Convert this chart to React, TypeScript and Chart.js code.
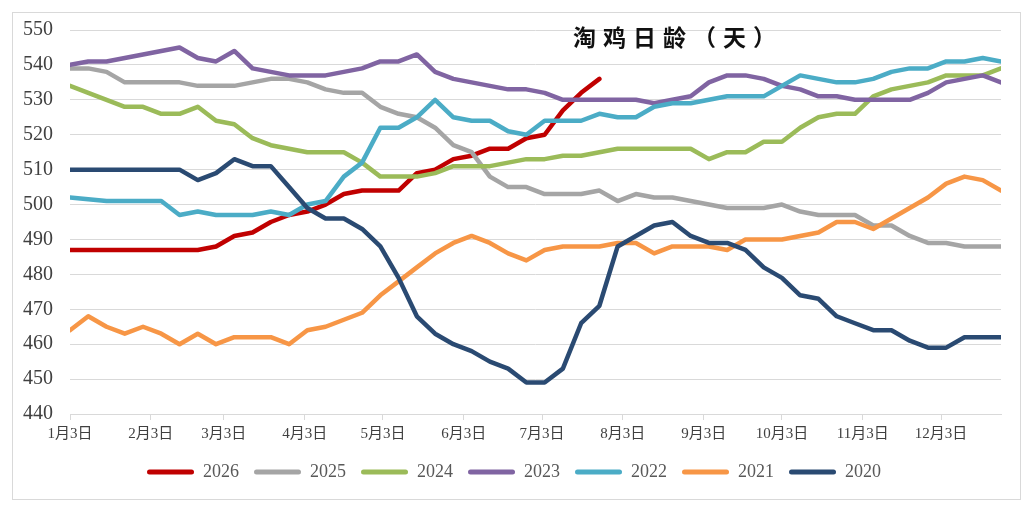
import { useEffect, useRef } from 'react';
import { Chart, registerables } from 'chart.js';

Chart.register(...registerables);

// weekly samples, day offset from 1月3日
const weekDays = Array.from({ length: 52 }, (_, i) => i * 7);

// month ticks on the date axis (days after 1月3日)
const monthTickDays = [0, 31, 59, 90, 120, 151, 181, 212, 243, 273, 304, 334];
const monthTickLabels = ['1月3日', '2月3日', '3月3日', '4月3日', '5月3日', '6月3日', '7月3日', '8月3日', '9月3日', '10月3日', '11月3日', '12月3日'];

const years = ['2026', '2025', '2024', '2023', '2022', '2021', '2020'];

const age2026 = [487, 487, 487, 487, 487, 487, 487, 487, 488, 491, 492, 495, 497, 498, 500, 503, 504, 504, 504, 509, 510, 513, 514, 516, 516, 519, 520, 527, 532, 536];
const age2025 = [539, 539, 538, 535, 535, 535, 535, 534, 534, 534, 535, 536, 536, 535, 533, 532, 532, 528, 526, 525, 522, 517, 515, 508, 505, 505, 503, 503, 503, 504, 501, 503, 502, 502, 501, 500, 499, 499, 499, 500, 498, 497, 497, 497, 494, 494, 491, 489, 489, 488, 488, 488];
const age2024 = [534, 532, 530, 528, 528, 526, 526, 528, 524, 523, 519, 517, 516, 515, 515, 515, 512, 508, 508, 508, 509, 511, 511, 511, 512, 513, 513, 514, 514, 515, 516, 516, 516, 516, 516, 513, 515, 515, 518, 518, 522, 525, 526, 526, 531, 533, 534, 535, 537, 537, 537, 539];
const age2023 = [540, 541, 541, 542, 543, 544, 545, 542, 541, 544, 539, 538, 537, 537, 537, 538, 539, 541, 541, 543, 538, 536, 535, 534, 533, 533, 532, 530, 530, 530, 530, 530, 529, 530, 531, 535, 537, 537, 536, 534, 533, 531, 531, 530, 530, 530, 530, 532, 535, 536, 537, 535];
const age2022 = [502, 501.5, 501, 501, 501, 501, 497, 498, 497, 497, 497, 498, 497, 500, 501, 508, 512, 522, 522, 525, 530, 525, 524, 524, 521, 520, 524, 524, 524, 526, 525, 525, 528, 529, 529, 530, 531, 531, 531, 534, 537, 536, 535, 535, 536, 538, 539, 539, 541, 541, 542, 541];
const age2021 = [464, 468, 465, 463, 465, 463, 460, 463, 460, 462, 462, 462, 460, 464, 465, 467, 469, 474, 478, 482, 486, 489, 491, 489, 486, 484, 487, 488, 488, 488, 489, 489, 486, 488, 488, 488, 487, 490, 490, 490, 491, 492, 495, 495, 493, 496, 499, 502, 506, 508, 507, 504];
const age2020 = [510, 510, 510, 510, 510, 510, 510, 507, 509, 513, 511, 511, 505, 499, 496, 496, 493, 488, 479, 468, 463, 460, 458, 455, 453, 449, 449, 453, 466, 471, 488, 491, 494, 495, 491, 489, 489, 487, 482, 479, 474, 473, 468, 466, 464, 464, 461, 459, 459, 462, 462, 462];

const allSeries = [age2026, age2025, age2024, age2023, age2022, age2021, age2020];
const colors = ['#C00000', '#A5A5A5', '#9BBB59', '#8064A2', '#4BACC6', '#F79646', '#2A4A72'];

const serif = "'Liberation Serif', 'Times New Roman', 'Noto Sans CJK SC', serif";

// the legend sits centred on the whole frame, not on the plot; nudge it right
const legendShift = {
  id: 'legendShift',
  afterLayout(chart: Chart) {
    const lg = chart.legend;
    if (lg) {
      lg.left += 13.5;
      lg.right += 13.5;
    }
  },
};

export default function App() {
  const canvasRef = useRef<HTMLCanvasElement>(null);
  const chartRef = useRef<Chart | null>(null);

  useEffect(() => {
    if (!canvasRef.current) return;
    const ctx = canvasRef.current.getContext('2d');
    if (!ctx) return;

    chartRef.current = new Chart(ctx, {
      type: 'line',
      data: {
        datasets: years.map((year, k) => ({
          label: year,
          data: allSeries[k].map((v, i) => ({ x: weekDays[i], y: v })),
          borderColor: colors[k],
          backgroundColor: colors[k],
          borderWidth: 4.5,
          borderCapStyle: 'round' as const,
          borderJoinStyle: 'round' as const,
          pointRadius: 0,
          tension: 0,
          fill: false,
          // later years drawn on top, like the spreadsheet
          order: years.length - 1 - k,
        })),
      },
      options: {
        responsive: true,
        maintainAspectRatio: false,
        animation: false,
        layout: {
          padding: { left: 0, right: 32, top: 30, bottom: 19 },
        },
        scales: {
          x: {
            type: 'linear',
            min: 0,
            max: 357,
            afterBuildTicks: (scale) => {
              scale.ticks = monthTickDays.map(d => ({ value: d }));
            },
            afterFit: (scale) => {
              scale.height = 34;
            },
            ticks: {
              autoSkip: false,
              maxRotation: 0,
              padding: 5,
              color: '#404040',
              font: { family: serif, size: 15 },
              callback: (value) => {
                const idx = monthTickDays.indexOf(Number(value));
                return idx >= 0 ? monthTickLabels[idx] : '';
              },
            },
            grid: {
              drawOnChartArea: false,
              drawTicks: true,
              tickLength: 6,
              color: '#D9D9D9',
            },
            border: { display: true, color: '#D9D9D9', width: 1 },
          },
          y: {
            min: 440,
            max: 550,
            afterFit: (scale) => {
              scale.width = 70;
            },
            ticks: {
              stepSize: 10,
              padding: 17,
              color: '#404040',
              font: { family: serif, size: 20 },
            },
            grid: {
              color: '#D9D9D9',
              drawTicks: false,
            },
            border: { display: false },
          },
        },
        plugins: {
          legend: {
            position: 'bottom',
            labels: {
              boxWidth: 47,
              boxHeight: 5,
              padding: 15,
              color: '#595959',
              font: { family: serif, size: 18 },
              useBorderRadius: true,
              borderRadius: 2.5,
              sort: (a, b) => (a.datasetIndex ?? 0) - (b.datasetIndex ?? 0),
              generateLabels: (chart) =>
                Chart.defaults.plugins.legend.labels.generateLabels(chart).map(item => ({
                  ...item,
                  lineWidth: 0,
                  borderRadius: 2.5,
                })),
            },
          },
          tooltip: { enabled: false },
        },
      },
      plugins: [legendShift],
    });

    return () => {
      chartRef.current?.destroy();
      chartRef.current = null;
    };
  }, []);

  return (
    <div style={{ position: 'fixed', left: 0, top: 0, width: 1033, height: 510, background: '#fff' }}>
      <div style={{
        position: 'absolute', left: 12, top: 12, width: 1007, height: 486,
        border: '1px solid #D9D9D9',
      }} />
      <div style={{ position: 'absolute', left: 0, top: 0, width: 1033, height: 510 }}>
        <canvas ref={canvasRef}></canvas>
      </div>
      <div style={{
        position: 'absolute', left: 573, top: 25, fontSize: 23, lineHeight: '1',
        letterSpacing: 7, fontWeight: 'bold', color: '#111',
        fontFamily: "'Noto Sans CJK SC', sans-serif", whiteSpace: 'nowrap',
      }}>
        淘鸡日龄（天）
      </div>
    </div>
  );
}
